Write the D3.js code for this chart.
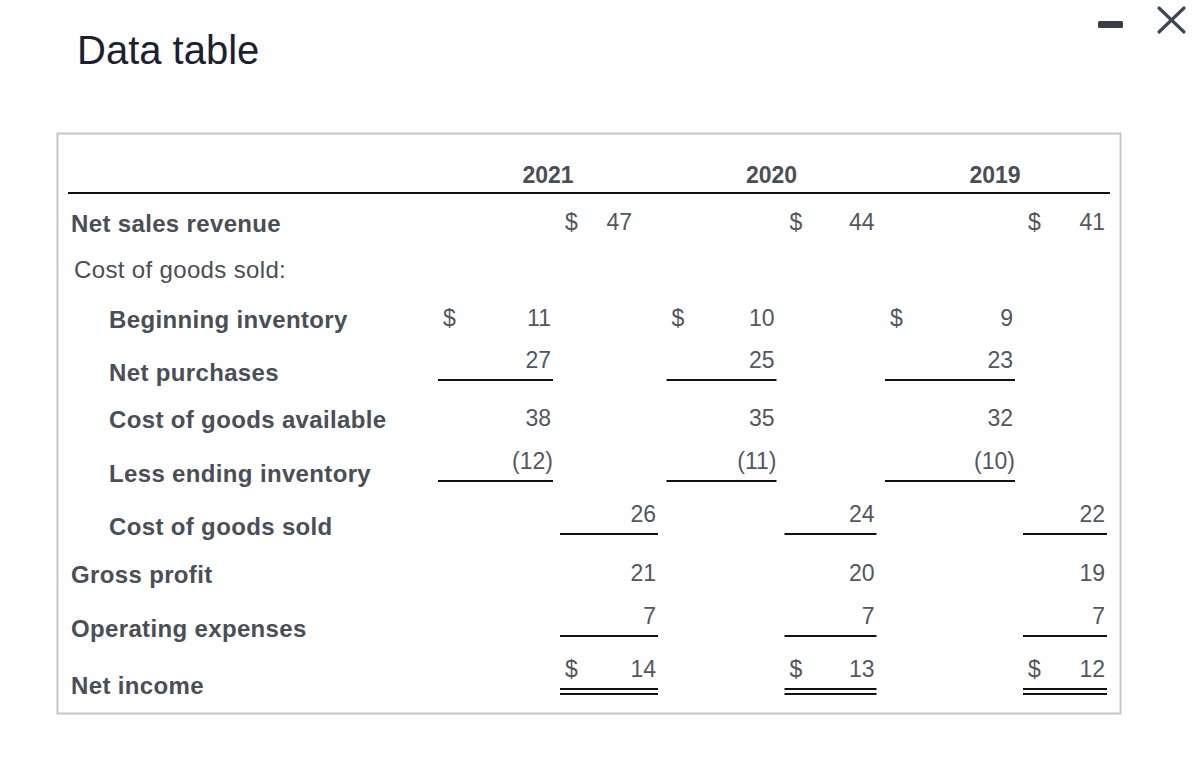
<!DOCTYPE html>
<html>
<head>
<meta charset="utf-8">
<script src="https://cdn.jsdelivr.net/npm/d3@7"></script>
<style>
  html, body { margin: 0; padding: 0; background: #fff; }
  svg { display: block; font-family: "Liberation Sans", Arial, sans-serif; }
</style>
</head>
<body>
<svg id="tbl"></svg>
<script>
// data
var years = ["2021", "2020", "2019"];
var rowLabels = ["Net sales revenue", "Cost of goods sold:", "Beginning inventory", "Net purchases",
  "Cost of goods available", "Less ending inventory", "Cost of goods sold", "Gross profit",
  "Operating expenses", "Net income"];
var netSales = [47, 44, 41];
var beginInv = [11, 10, 9];
var netPurch = [27, 25, 23];
var goodsAvail = [38, 35, 32];
var endInv = [12, 11, 10];
var cogs = [26, 24, 22];
var grossProfit = [21, 20, 19];
var opExp = [7, 7, 7];
var netIncome = [14, 13, 12];

// row setup: which column, $ sign, rule under it, shown in ( )
var rows = [
  {vals: netSales, col: "outer", dollar: true},
  {vals: null},
  {vals: beginInv, col: "inner", dollar: true},
  {vals: netPurch, col: "inner", rule: 1},
  {vals: goodsAvail, col: "inner"},
  {vals: endInv, col: "inner", rule: 1, paren: true},
  {vals: cogs, col: "outer", rule: 1},
  {vals: grossProfit, col: "outer"},
  {vals: opExp, col: "outer", rule: 1},
  {vals: netIncome, col: "outer", dollar: true, rule: 2}
];

var W = 1200, H = 772;
var labelCol = "#4a4e57", numCol = "#52575f";

var svg = d3.select("#tbl").attr("width", W).attr("height", H);
svg.append("rect").attr("width", W).attr("height", H).attr("fill", "#fff");

// title + window buttons
svg.append("text").attr("x", 77).attr("y", 64)
  .attr("font-size", 40).attr("fill", "#1b2130").text("Data table");
svg.append("rect").attr("x", 1098).attr("y", 21).attr("width", 25).attr("height", 7)
  .attr("rx", 1.5).attr("fill", "#3a3f47");
var xg = svg.append("g").attr("stroke", "#3c4856").attr("stroke-width", 3.2).attr("stroke-linecap", "round");
xg.append("line").attr("x1", 1159).attr("y1", 8).attr("x2", 1184).attr("y2", 32);
xg.append("line").attr("x1", 1184).attr("y1", 8).attr("x2", 1159).attr("y2", 32);

// box
svg.append("rect").attr("x", 57.5).attr("y", 133.5).attr("width", 1063).attr("height", 580)
  .attr("fill", "none").attr("stroke", "#c6c6c6").attr("stroke-width", 2);

// columns
var x = d3.scalePoint().domain(years).range([548, 995]);
var innerL = [-110, -105, -110], innerR = [5, 5, 20];
var outerL = [12, 13, 28], outerR = [110, 105, 112];

// rows
var rowGap = [0, 46, 50, 53, 47, 54, 53, 48, 54, 57];
var rowY = d3.cumsum(rowGap).map(function(d) { return 224 + d; });

// header
svg.append("g").selectAll("text").data(years).enter().append("text")
  .attr("x", function(d) { return x(d); }).attr("y", 175).attr("dy", "0.35em")
  .attr("text-anchor", "middle").attr("font-size", 23).attr("font-weight", "bold")
  .attr("fill", labelCol).text(function(d) { return d; });
svg.append("line").attr("x1", 68).attr("x2", 1110).attr("y1", 193).attr("y2", 193)
  .attr("stroke", "#111").attr("stroke-width", 2);

// labels
svg.append("g").selectAll("text").data(rowLabels).enter().append("text")
  .attr("x", function(d, i) { return i === 1 ? 74 : (i >= 2 && i <= 6 ? 109 : 71); })
  .attr("y", function(d, i) { return rowY[i]; }).attr("dy", "0.35em")
  .attr("font-size", 24).attr("letter-spacing", 0.35)
  .attr("font-weight", function(d, i) { return i === 1 ? "normal" : "bold"; })
  .attr("fill", labelCol).text(function(d) { return d; });

// values
var cells = [];
rows.forEach(function(r, ri) {
  if (!r.vals) return;
  r.vals.forEach(function(v, yi) {
    var c = x(years[yi]);
    var L = r.col === "inner" ? c + innerL[yi] : c + outerL[yi];
    var R = r.col === "inner" ? c + innerR[yi] : c + outerR[yi];
    var ly = rowY[ri] + (r.rule === 2 ? 3 : 7);
    var vy = r.rule ? ly - 20 : rowY[ri] - 2;
    var tr = R - 2;
    if (ri === 0 && yi === 0) tr = R - 26; // 47 sits left in the source
    cells.push({v: v, r: r, L: L, R: R, ly: ly, vy: vy, tr: tr});
  });
});

var g = svg.append("g");
g.selectAll("text.val").data(cells).enter().append("text").attr("class", "val")
  .attr("x", function(d) { return d.tr + (d.r.paren ? 2 : 0); })
  .attr("y", function(d) { return d.vy; }).attr("dy", "0.35em")
  .attr("text-anchor", "end").attr("font-size", 23).attr("fill", numCol)
  .text(function(d) { return d.r.paren ? "(" + d.v + ")" : d.v; });

g.selectAll("text.dol").data(cells.filter(function(d) { return d.r.dollar; })).enter()
  .append("text").attr("class", "dol")
  .attr("x", function(d) { return d.L + 5; })
  .attr("y", function(d) { return d.vy; }).attr("dy", "0.35em")
  .attr("font-size", 23).attr("fill", numCol).text("$");

var ruled = cells.filter(function(d) { return d.r.rule; });
g.selectAll("line.r1").data(ruled).enter().append("line").attr("class", "r1")
  .attr("x1", function(d) { return d.L; }).attr("x2", function(d) { return d.R; })
  .attr("y1", function(d) { return d.ly; }).attr("y2", function(d) { return d.ly; })
  .attr("stroke", "#111").attr("stroke-width", 2);
g.selectAll("line.r2").data(ruled.filter(function(d) { return d.r.rule === 2; })).enter()
  .append("line").attr("class", "r2")
  .attr("x1", function(d) { return d.L; }).attr("x2", function(d) { return d.R; })
  .attr("y1", function(d) { return d.ly + 5; }).attr("y2", function(d) { return d.ly + 5; })
  .attr("stroke", "#111").attr("stroke-width", 2);
</script>
</body>
</html>
